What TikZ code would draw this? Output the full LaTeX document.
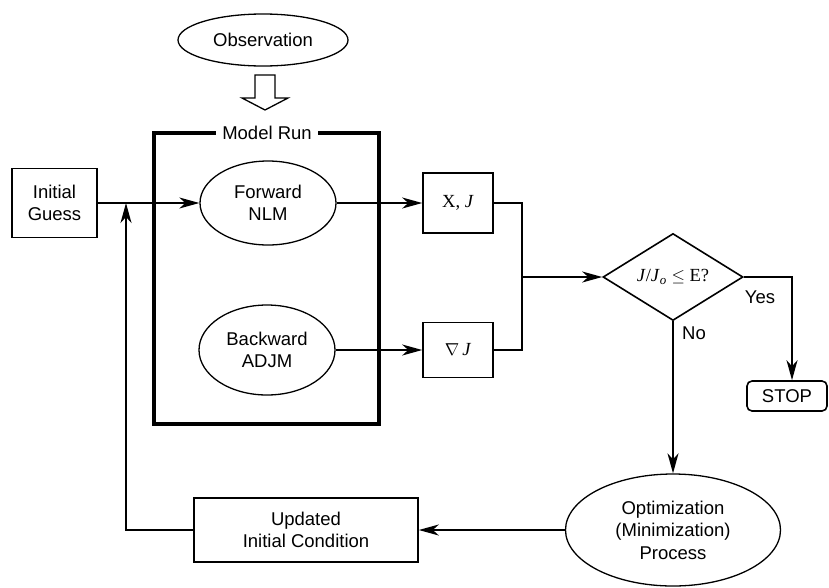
\documentclass[tikz,border=0pt]{standalone}
\usepackage{fontspec}
\setmainfont{Liberation Sans}
\newfontfamily\serif{Liberation Serif}
\usetikzlibrary{shapes.geometric,arrows.meta,calc}
\begin{document}
\begin{tikzpicture}[x=1pt,y=-1pt,
  every node/.style={font=\fontsize{18.5}{22.5}\selectfont, align=center, inner sep=0pt},
  oval/.style={draw, ellipse, line width=1.3pt},
  boxnode/.style={draw, rectangle, line width=1.6pt},
  conn/.style={line width=1.6pt},
  arr/.style={conn, -{Stealth[length=20pt,width=11pt,inset=6pt]}},
]
\useasboundingbox (0,0) rectangle (829,587);
% observation and hollow arrow
\node[oval, minimum width=170pt, minimum height=52pt] (obs) at (263,40) {Observation};
\draw[line width=1.3pt, line join=miter] (255,75) -- (275,75) -- (275,98) -- (288,98) -- (265,110) -- (242,98) -- (255,98) -- cycle;
% model run frame
\draw[line width=3.6pt] (154,133) rectangle (379,424);
\node[fill=white, inner xsep=6pt, inner ysep=3pt] (mr) at (267,133) {Model Run};
% nodes
\node[boxnode, minimum width=85pt, minimum height=69pt] (init) at (54.5,203) {Initial\\Guess};
\node[oval, minimum width=136pt, minimum height=84pt] (fwd) at (268,203) {Forward\\NLM};
\node[oval, minimum width=136pt, minimum height=90pt] (bwd) at (267,350) {Backward\\ADJM};
\node[boxnode, minimum width=70pt, minimum height=60pt] (xj) at (458,203) {\serif X, \textit{J}};
\node[boxnode, minimum width=70pt, minimum height=55pt] (grad) at (458,350) {$\nabla$\,{\serif\textit{J}}};
\node[draw, diamond, line width=1.6pt, aspect=1.6, minimum width=140pt, minimum height=87pt] (dia) at (673,277) {\serif\textit{J}/\textit{J}\textsubscript{\textit{o}} $\leq$ E?};
\node[draw, rounded corners=5pt, line width=1.6pt, minimum width=80pt, minimum height=30pt] (stop) at (787,396) {STOP};
\node[oval, minimum width=215pt, minimum height=112pt] (opt) at (673,530) {Optimization\\(Minimization)\\Process};
\node[boxnode, minimum width=224pt, minimum height=64pt] (upd) at (306,530) {Updated\\Initial Condition};
% helper coordinates
\coordinate (jn) at (522,277);
\coordinate (yx) at (792,277);
\coordinate (fb) at (126,203);
% connectors
\draw[arr] (init.east) -- (fwd.west);
\draw[arr] (fwd.east) -- (xj.west);
\draw[arr] (bwd.east) -- (bwd.east -| grad.west);
\draw[conn] (xj.east) -| (jn) |- (grad.east);
\draw[arr] (jn) -- (dia.west);
\draw[arr] (dia.east) -- (yx) -- (yx |- stop.north);
\draw[arr] (dia.south) -- (opt.north);
\draw[arr] (opt.west) -- (upd.east);
\draw[arr] (upd.west) -| (fb);
% labels
\node (yes) at (760,297) {Yes};
\node (no) at (694,333) {No};
\end{tikzpicture}
\end{document}
